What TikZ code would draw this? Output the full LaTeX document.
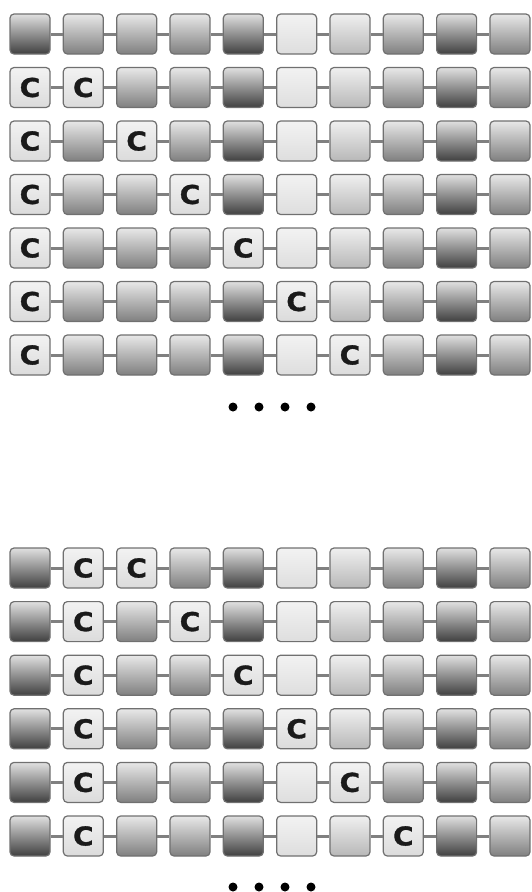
\documentclass[tikz,border=0pt]{standalone}
\usepackage{fontspec}
\newfontfamily\cfont{DejaVu Sans}[BoldFeatures={FakeBold=1.2,FakeStretch=1.08}]
\definecolor{boxborder}{HTML}{707070}
\definecolor{linkgray}{HTML}{808080}
\definecolor{letter}{HTML}{1A1A1A}
\tikzset{
  cell/.style={draw=boxborder, line width=1.2pt, rounded corners=4pt,
    minimum width=40pt, minimum height=40pt, inner sep=0pt,
    text=letter, font=\cfont\bfseries\fontsize{26}{26}\selectfont},
  shdark/.style={top color=white!88!black, bottom color=black!75},
  shmed/.style={top color=white!91!black, bottom color=black!50},
  shlight/.style={top color=white!94!black, bottom color=black!28},
  shvlight/.style={top color=white!95!black, bottom color=black!13},
  shc/.style={top color=white!95!black, bottom color=black!14},
  col1/.style={shdark}, col2/.style={shmed}, col3/.style={shmed},
  col4/.style={shmed}, col5/.style={shdark}, col6/.style={shvlight},
  col7/.style={shlight}, col8/.style={shmed}, col9/.style={shdark},
  col10/.style={shmed},
  link/.style={draw=linkgray, line width=3pt},
  bullet/.style={circle, fill=black, minimum size=9pt, inner sep=0pt}
}
\begin{document}
\begin{tikzpicture}[x=1pt,y=1pt]
\useasboundingbox (0,0) rectangle (531,-892);
% group 1
\foreach \r in {1,...,7} {
  \pgfmathsetmacro{\yy}{-34-(\r-1)*53.5}
  \foreach \c in {1,...,10} {
    \pgfmathsetmacro{\xx}{30+(\c-1)*53.33}
    \pgfmathtruncatemacro{\isc}{(\r>1)&&((\c==1)||(\c==\r)) ? 1 : 0}
    \ifnum\isc=1
      \node[cell, shc] (a\r-\c) at (\xx,\yy) {C};
    \else
      \node[cell, col\c] (a\r-\c) at (\xx,\yy) {};
    \fi
  }
  \foreach \c [evaluate=\c as \n using int(\c+1)] in {1,...,9} {
    \draw[link] (a\r-\c) -- (a\r-\n);
  }
}
% group 2
\foreach \r in {1,...,6} {
  \pgfmathsetmacro{\yy}{-568-(\r-1)*53.6}
  \foreach \c in {1,...,10} {
    \pgfmathsetmacro{\xx}{30+(\c-1)*53.33}
    \pgfmathtruncatemacro{\isc}{((\c==2)||(\c==\r+2)) ? 1 : 0}
    \ifnum\isc=1
      \node[cell, shc] (b\r-\c) at (\xx,\yy) {C};
    \else
      \node[cell, col\c] (b\r-\c) at (\xx,\yy) {};
    \fi
  }
  \foreach \c [evaluate=\c as \n using int(\c+1)] in {1,...,9} {
    \draw[link] (b\r-\c) -- (b\r-\n);
  }
}
% ellipses
\foreach \i/\x in {1/233,2/259,3/285,4/311} {
  \node[bullet] (d1-\i) at (\x,-407) {};
  \node[bullet] (d2-\i) at (\x,-887) {};
}
\end{tikzpicture}
\end{document}
